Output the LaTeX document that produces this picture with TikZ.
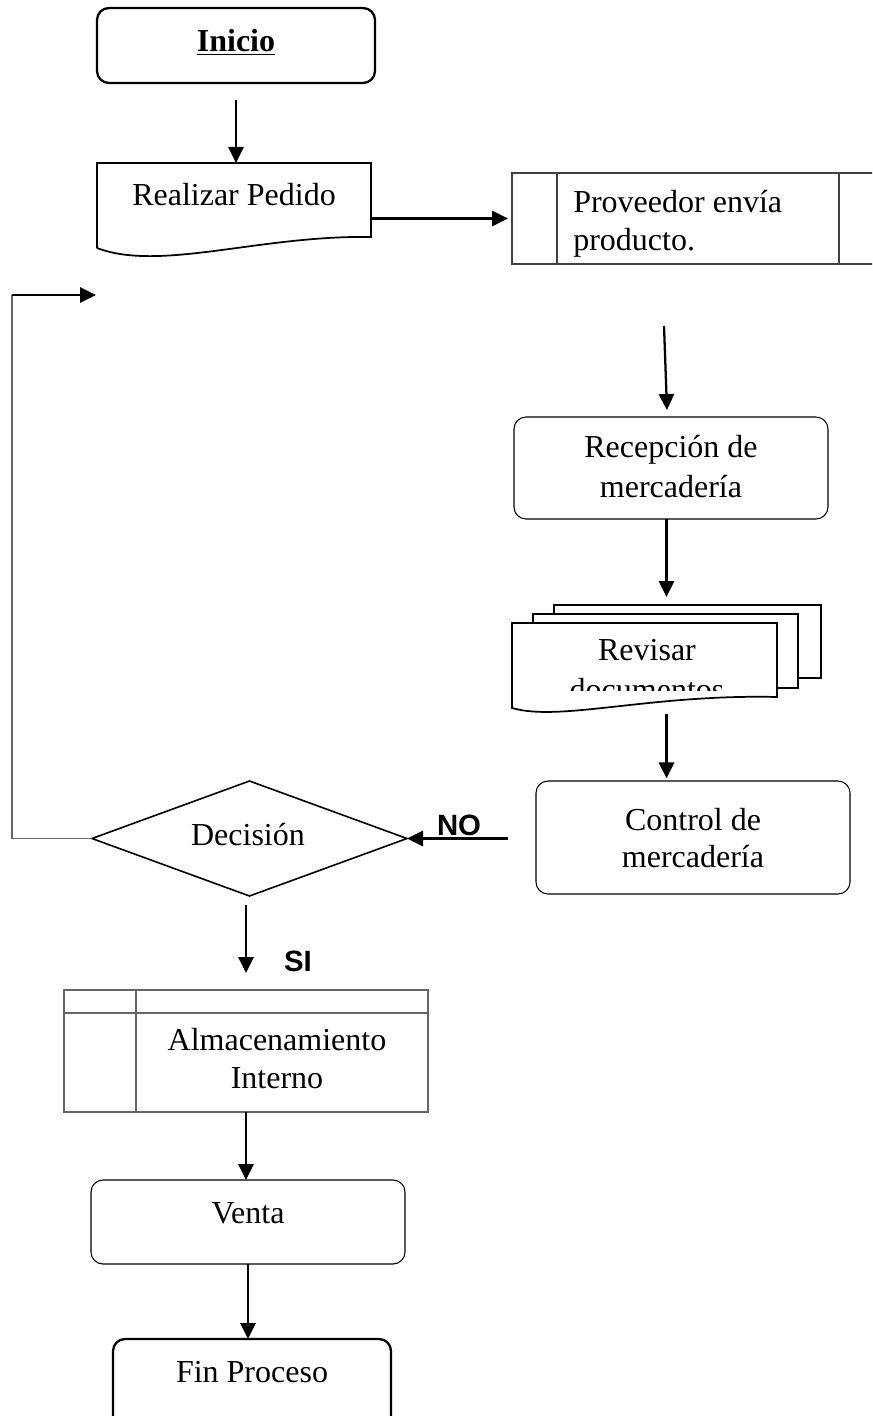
\documentclass[tikz,border=0pt]{standalone}
\usepackage{fontspec}
\setmainfont{Liberation Serif}
\newfontfamily\arialfont{Liberation Sans}
\usetikzlibrary{arrows.meta,calc}
\begin{document}
\begin{tikzpicture}[x=0.75pt,y=-0.75pt,
  txt/.style={font=\fontsize{24}{28}\selectfont, inner sep=0pt, anchor=base},
  lbl/.style={font=\arialfont\bfseries\fontsize{22}{24}\selectfont, inner sep=0pt, anchor=base},
  arr/.style={line width=1.7pt, -{Triangle[length=12pt,width=11.5pt]}},
  box/.style={inner sep=0pt, outer sep=0pt, rectangle},
  thickround/.style={box, draw, line width=1.7pt, rounded corners=9pt},
  thinround/.style={box, draw, line width=0.8pt, rounded corners=9pt},
  sheet/.style={draw, fill=white, line width=1.3pt},
  grayline/.style={draw=black!60, line width=0.8pt},
]
\useasboundingbox (0,0) rectangle (872,1416);
\clip (0,0) rectangle (872,1416);

% Inicio
\node[thickround, minimum width=208.5pt, minimum height=56.25pt] (inicio) at (236,45.5) {};
\node[txt] at (236,52) {\underline{\textbf{Inicio}}};

% Realizar Pedido (document)
\node[box, minimum width=205.5pt, minimum height=63.75pt] (realizar) at (234,205.5) {};
\draw[line width=1.3pt] (realizar.south west) -- (realizar.north west) -- (realizar.north east)
  -- ($(realizar.south east)+(0,-11)$) .. controls (260,235) and (160,272) .. (realizar.south west);
\node[txt] at (234,205) {Realizar Pedido};

\draw[arr, shorten <=12.75pt] (inicio.south) -- (inicio.south |- realizar.north);

% Proveedor (predefined process)
\node[box, draw=black!75, line width=0.8pt, minimum width=273pt, minimum height=68.25pt] (proveedor) at (694,218.5) {};
\draw[draw=black!75, line width=0.8pt] ($(proveedor.north west)+(45,0)$) -- ($(proveedor.south west)+(45,0)$);
\draw[draw=black!75, line width=0.8pt] ($(proveedor.north east)+(-37,0)$) -- ($(proveedor.south east)+(-37,0)$);
\node[txt, anchor=base west] at (573,212) {Proveedor envía};
\node[txt, anchor=base west] at (573,250) {producto.};

\draw[arr, shorten >=3pt] (proveedor.west -| realizar.east) -- (proveedor.west);

% Recepcion
\node[thinround, minimum width=235.5pt, minimum height=76.5pt] (recepcion) at (671,468) {};
\node[txt] at (671,457) {Recepción de};
\node[txt] at (671,497) {mercadería};

\coordinate (p1) at (664,326);
\draw[arr] (p1) -- ($(recepcion.north)+(-4,-7)$);

% Revisar documentos (multi-document)
\node[box, minimum width=231.75pt, minimum height=81.75pt] (revisar) at (666.5,659.5) {};
\draw[sheet] (554,605) rectangle (821,678);
\draw[sheet] (533,614) rectangle (798,688);
\draw[sheet] (512,708) -- (512,623) -- (777,623) -- (777,697) .. controls (650,694) and (560,722) .. (512,708) -- cycle;
\begin{scope}
  \clip (512,623) rectangle (777,690);
  \node[txt] at (647,660) {Revisar};
  \node[txt] at (647,700) {documentos};
\end{scope}

\draw[arr, shorten >=6pt] (recepcion.south -| revisar.north) -- (revisar.north);

% Control
\node[thinround, minimum width=235.5pt, minimum height=84.75pt] (control) at (693,837.5) {};
\node[txt] at (693,830) {Control de};
\node[txt] at (693,867) {mercadería};

\draw[arr, shorten >=2pt] (revisar.south) -- (revisar.south |- control.north);

% Decision
\node[box, minimum width=236.25pt, minimum height=86.25pt] (decision) at (249.5,838.5) {};
\draw[line width=1.2pt] (decision.west) -- (decision.north) -- (decision.east) -- (decision.south) -- cycle;
\node[txt] at (248,845) {Decisión};

\coordinate (nostart) at (508,839);
\draw[arr] (nostart |- decision.east) -- (decision.east);
\node[lbl] at (459,835) {NO};

% Loop back
\coordinate (lc) at (12,295);
\coordinate (le) at (96,295);
\draw[grayline] (decision.west) -| (lc);
\draw[arr] (lc) -- (le);

% Almacenamiento
\node[box, draw=black!60, line width=0.8pt, minimum width=273pt, minimum height=91.5pt] (alm) at (246,1051) {};
\draw[grayline] ($(alm.north west)+(0,23)$) -- ($(alm.north east)+(0,23)$);
\draw[grayline] ($(alm.north west)+(72,0)$) -- ($(alm.south west)+(72,0)$);
\node[txt] at (277,1050) {Almacenamiento};
\node[txt] at (277,1088) {Interno};

\draw[arr, shorten <=6.75pt, shorten >=12.75pt] (alm.north |- decision.south) -- (alm.north);
\node[lbl] at (298,971) {SI};

% Venta
\node[thinround, minimum width=235.5pt, minimum height=63pt] (venta) at (248,1222) {};
\node[txt] at (248,1223) {Venta};
\draw[arr] (alm.south) -- (alm.south |- venta.north);

% Fin
\node[thickround, minimum width=208.5pt, minimum height=68.25pt] (fin) at (252,1384.5) {};
\node[txt] at (252,1382) {Fin Proceso};
\draw[arr] (venta.south) -- (venta.south |- fin.north);

\end{tikzpicture}
\end{document}
